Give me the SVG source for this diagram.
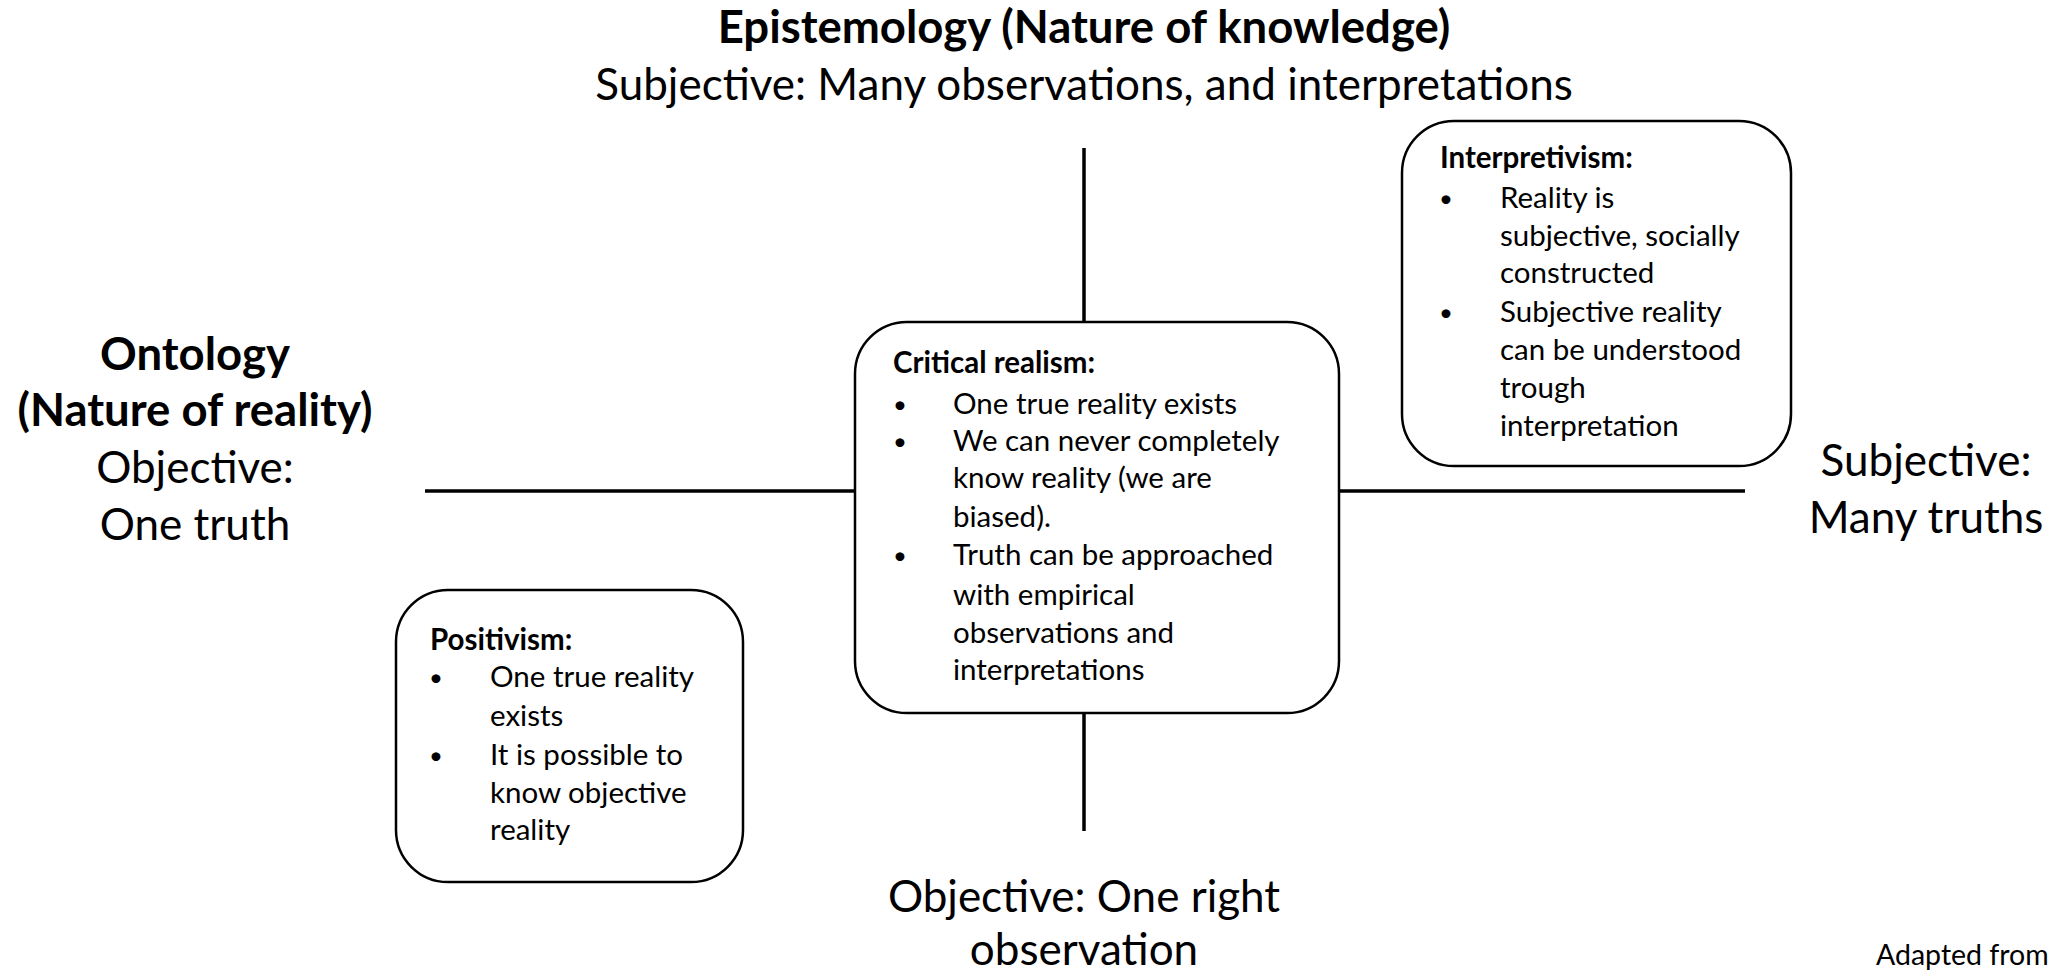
<svg xmlns="http://www.w3.org/2000/svg" width="2057" height="971" viewBox="0 0 2057 971">
<style>
text{font-family:Lato,"Open Sans","Liberation Sans",sans-serif;fill:#000}
.big{font-size:44px}
.bb{font-size:45.5px;font-weight:bold}
.b{font-weight:bold}
.mid{text-anchor:middle}
.t{font-size:29.5px}
.bul{font-size:24px}
.box{fill:#fff;stroke:#000;stroke-width:2.5}
.axis{stroke:#000;stroke-width:3.5}
</style>
<rect width="2057" height="971" fill="#fff"/>
<g id="connectors">
<line class="axis" x1="1084" y1="148" x2="1084" y2="322"/>
<line class="axis" x1="1084" y1="713" x2="1084" y2="831"/>
<line class="axis" x1="425" y1="491" x2="856" y2="491"/>
<line class="axis" x1="1339" y1="491" x2="1745" y2="491"/>
</g>
<g id="epistemology">
<text class="bb mid" x="1084" y="43">Epistemology (Nature of knowledge)</text>
<text class="big mid" x="1084" y="100">Subjective: Many observations, and interpretations</text>
</g>
<g id="ontology">
<text class="bb mid" x="195" y="370">Ontology</text>
<text class="bb mid" x="195" y="426">(Nature of reality)</text>
<text class="big mid" x="195" y="483">Objective:</text>
<text class="big mid" x="195" y="540">One truth</text>
</g>
<g id="subjective-truths">
<text class="big mid" x="1926" y="476">Subjective:</text>
<text class="big mid" x="1926" y="533">Many truths</text>
</g>
<g id="objective-observation">
<text class="big mid" x="1084" y="912">Objective: One right</text>
<text class="big mid" x="1084" y="965">observation</text>
</g>
<g id="critical-realism">
<rect class="box" x="855" y="322" width="484" height="391" rx="52"/>
<text class="t b" x="893" y="373">Critical realism:</text>
<text class="bul" x="893" y="413">•</text><text class="t" x="953" y="414">One true reality exists</text>
<text class="bul" x="893" y="450">•</text><text class="t" x="953" y="451">We can never completely</text>
<text class="t" x="953" y="488">know reality (we are</text>
<text class="t" x="953" y="527">biased).</text>
<text class="bul" x="893" y="564">•</text><text class="t" x="953" y="565">Truth can be approached</text>
<text class="t" x="953" y="605">with empirical</text>
<text class="t" x="953" y="643">observations and</text>
<text class="t" x="953" y="680">interpretations</text>
</g>
<g id="interpretivism">
<rect class="box" x="1402" y="121" width="389" height="345" rx="52"/>
<text class="t b" x="1440" y="168">Interpretivism:</text>
<text class="bul" x="1439" y="207">•</text><text class="t" x="1500" y="208">Reality is</text>
<text class="t" x="1500" y="246">subjective, socially</text>
<text class="t" x="1500" y="283">constructed</text>
<text class="bul" x="1439" y="321">•</text><text class="t" x="1500" y="322">Subjective reality</text>
<text class="t" x="1500" y="360">can be understood</text>
<text class="t" x="1500" y="398">trough</text>
<text class="t" x="1500" y="436">interpretation</text>
</g>
<g id="positivism">
<rect class="box" x="396" y="590" width="347" height="292" rx="52"/>
<text class="t b" x="430" y="650">Positivism:</text>
<text class="bul" x="429" y="686">•</text><text class="t" x="490" y="687">One true reality</text>
<text class="t" x="490" y="726">exists</text>
<text class="bul" x="429" y="764">•</text><text class="t" x="490" y="765">It is possible to</text>
<text class="t" x="490" y="803">know objective</text>
<text class="t" x="490" y="840">reality</text>
</g>
<g id="source-note">
<text x="1876" y="965" style="font-size:28.5px">Adapted from</text>
</g>
</svg>
